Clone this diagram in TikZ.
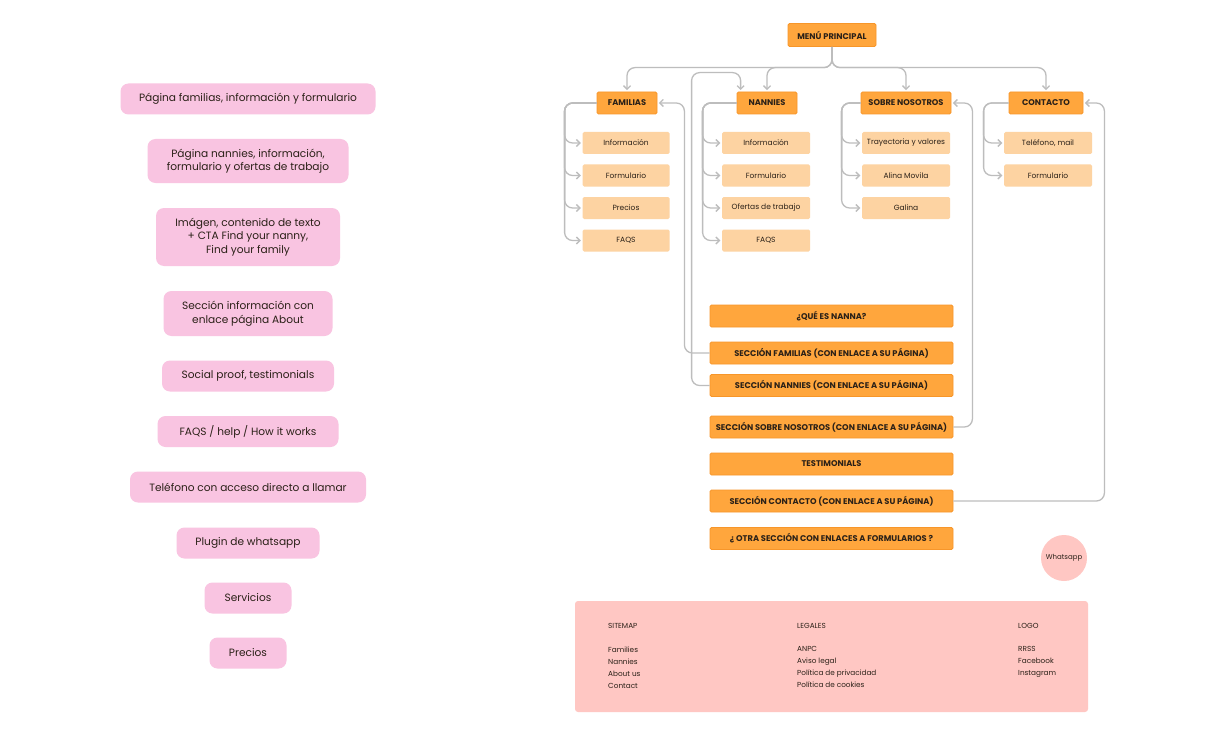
\documentclass[tikz,border=0pt]{standalone}
\usepackage{fontspec}
\setmainfont{Poppins}
\usetikzlibrary{arrows.meta}
\definecolor{menuorange}{HTML}{FFA63D}
\definecolor{menuedge}{HTML}{F7962A}
\definecolor{subpeach}{HTML}{FDD3A2}
\definecolor{pagepink}{HTML}{F9C4E1}
\definecolor{footpink}{HTML}{FFC7C3}
\definecolor{linkgray}{HTML}{BDBDBD}
\definecolor{inkdark}{HTML}{2B2118}
\begin{document}
\begin{tikzpicture}[x=1pt,y=-1pt,
  topbox/.style={draw=menuedge,fill=menuorange,line width=0.8pt,rounded corners=1.5pt,
    minimum height=22pt,inner sep=0pt,text=inkdark,font=\fontsize{8.3}{9}\selectfont\bfseries},
  secbox/.style={topbox,minimum width=243pt},
  subbox/.style={fill=subpeach,rounded corners=1.5pt,minimum width=87pt,minimum height=22pt,
    inner sep=0pt,text=inkdark,font=\fontsize{7.5}{8}\selectfont},
  pagebox/.style={fill=pagepink,rounded corners=8pt,minimum height=31pt,inner sep=0pt,
    align=center,text=inkdark,font=\fontsize{10.6}{13.5}\selectfont},
  foottext/.style={anchor=north west,inner sep=0pt,align=left,text=inkdark,
    font=\fontsize{7.3}{12}\selectfont},
  link/.style={draw=linkgray,line width=1.3pt,rounded corners=8pt,shorten >=1.5pt,
    -{Straight Barb[length=3.5pt,width=7pt]}}]
\fill[white] (0,0) rectangle (1206,746);
% paginas de la web
\node[pagebox,minimum width=255pt] (p1) at (248,99) {Página familias, información y formulario};
\node[pagebox,minimum width=201pt,minimum height=44pt] (p2) at (248,161) {Página nannies, información,\\formulario y ofertas de trabajo};
\node[pagebox,minimum width=184pt,minimum height=58pt] (p3) at (248,237) {Imágen, contenido de texto\\+ CTA Find your nanny,\\Find your family};
\node[pagebox,minimum width=169pt,minimum height=45pt] (p4) at (248,313.5) {Sección información con\\enlace página About};
\node[pagebox,minimum width=172pt] (p5) at (248,376) {Social proof, testimonials};
\node[pagebox,minimum width=181pt] (p6) at (248,431.5) {FAQS / help / How it works};
\node[pagebox,minimum width=236pt] (p7) at (248,487) {Teléfono con acceso directo a llamar};
\node[pagebox,minimum width=143pt] (p8) at (248,543) {Plugin de whatsapp};
\node[pagebox,minimum width=87pt] (p9) at (248,598) {Servicios};
\node[pagebox,minimum width=77pt] (p10) at (248,653) {Precios};
% menu
\node[topbox,minimum width=88pt,minimum height=23pt] (menu) at (832,35) {MENÚ PRINCIPAL};
\node[topbox,minimum width=60pt] (fam) at (627,103) {FAMILIAS};
\node[topbox,minimum width=60pt] (nan) at (767,103) {NANNIES};
\node[topbox,minimum width=90pt] (sob) at (906,103) {SOBRE NOSOTROS};
\node[topbox,minimum width=74pt] (con) at (1046,103) {CONTACTO};
\node[subbox] (fam1) at (626,143) {Información};
\node[subbox] (fam2) at (626,175.5) {Formulario};
\node[subbox] (fam3) at (626,208) {Precios};
\node[subbox] (fam4) at (626,240.5) {FAQS};
\node[subbox,minimum width=88pt] (nan1) at (766,143) {Información};
\node[subbox,minimum width=88pt] (nan2) at (766,175.5) {Formulario};
\node[subbox,minimum width=88pt] (nan3) at (766,208) {Ofertas de trabajo};
\node[subbox,minimum width=88pt] (nan4) at (766,240.5) {FAQS};
\node[subbox,minimum width=88pt] (sob1) at (906,143) {Trayectoria y valores};
\node[subbox,minimum width=88pt] (sob2) at (906,175.5) {Alina Movila};
\node[subbox,minimum width=88pt] (sob3) at (906,208) {Galina};
\node[subbox,minimum width=88pt] (con1) at (1048,143) {Teléfono, mail};
\node[subbox,minimum width=88pt] (con2) at (1048,175.5) {Formulario};
% home
\node[secbox] (sqn) at (831.5,316) {¿QUÉ ES NANNA?};
\node[secbox] (sfam) at (831.5,353) {SECCIÓN FAMILIAS (CON ENLACE A SU PÁGINA)};
\node[secbox] (snan) at (831.5,385.5) {SECCIÓN NANNIES (CON ENLACE A SU PÁGINA)};
\node[secbox] (ssob) at (831.5,427) {SECCIÓN SOBRE NOSOTROS (CON ENLACE A SU PÁGINA)};
\node[secbox] (stes) at (831.5,464) {TESTIMONIALS};
\node[secbox] (scon) at (831.5,501) {SECCIÓN CONTACTO (CON ENLACE A SU PÁGINA)};
\node[secbox] (sotr) at (831.5,538.5) {¿ OTRA SECCIÓN CON ENLACES A FORMULARIOS ?};
\node[circle,fill=footpink,minimum size=46pt,inner sep=0pt,text=inkdark,
  font=\fontsize{7}{8}\selectfont] (wa) at (1064,558) {Whatsapp};
% footer
\node[fill=footpink,rounded corners=3pt,minimum width=513pt,minimum height=111pt,inner sep=0pt] (foot) at (831.5,656.5) {};
\node[foottext,anchor=west] (fsite) at (608,626) {SITEMAP};
\node[foottext,anchor=west] (flegal) at (797,626) {LEGALES};
\node[foottext,anchor=west] (flogo) at (1018,626) {LOGO};
\node[foottext] (lsite) at (608,646.5) {Families\\Nannies\\About us\\Contact};
\node[foottext] (llegal) at (797,646.5) {ANPC\\Aviso legal\\Política de privacidad\\Política de cookies};
\node[foottext] (llogo) at (1018,646.5) {RRSS\\Facebook\\Instagram};
% conectores del menu
\draw[link] (menu.south) |- ([yshift=24pt]fam.north) -- (fam.north);
\draw[link] (menu.south) |- ([yshift=24pt]nan.north) -- (nan.north);
\draw[link] (menu.south) |- ([yshift=24pt]sob.north) -- (sob.north);
\draw[link] (menu.south) |- ([yshift=24pt]con.north) -- (con.north);
% subpaginas
\draw[link] (fam.west) -- ([xshift=-32pt]fam.west) |- (fam1.west);
\draw[link] (fam.west) -- ([xshift=-32pt]fam.west) |- (fam2.west);
\draw[link] (fam.west) -- ([xshift=-32pt]fam.west) |- (fam3.west);
\draw[link] (fam.west) -- ([xshift=-32pt]fam.west) |- (fam4.west);
\draw[link] (nan.west) -- ([xshift=-34pt]nan.west) |- (nan1.west);
\draw[link] (nan.west) -- ([xshift=-34pt]nan.west) |- (nan2.west);
\draw[link] (nan.west) -- ([xshift=-34pt]nan.west) |- (nan3.west);
\draw[link] (nan.west) -- ([xshift=-34pt]nan.west) |- (nan4.west);
\draw[link] (sob.west) -- ([xshift=-19pt]sob.west) |- (sob1.west);
\draw[link] (sob.west) -- ([xshift=-19pt]sob.west) |- (sob2.west);
\draw[link] (sob.west) -- ([xshift=-19pt]sob.west) |- (sob3.west);
\draw[link] (con.west) -- ([xshift=-25pt]con.west) |- (con1.west);
\draw[link] (con.west) -- ([xshift=-25pt]con.west) |- (con2.west);
% enlaces de la home
\draw[link] (sfam.west) -| ([xshift=27pt]fam.east) -- (fam.east);
\draw[link] (snan.west) -| ([xshift=-45pt,yshift=19pt]nan.north west) -| ([xshift=4pt]nan.north west);
\draw[link] (ssob.east) -| ([xshift=21pt]sob.east) -- (sob.east);
\draw[link] (scon.east) -| ([xshift=21pt]con.east) -- (con.east);
\end{tikzpicture}
\end{document}
